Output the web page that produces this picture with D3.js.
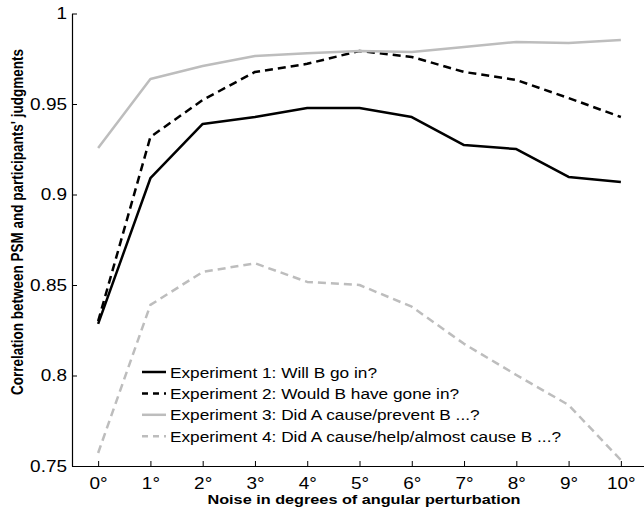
<!DOCTYPE html>
<html>
<head>
<meta charset="utf-8">
<script src="https://cdn.jsdelivr.net/npm/d3@7"></script>
<style>
  body { margin: 0; background: #fff; }
  svg { display: block; font-family: "Liberation Sans", Arial, Helvetica, sans-serif; }
</style>
</head>
<body>
<svg id="chart" width="644" height="509"></svg>
<script>
const noise = [0, 1, 2, 3, 4, 5, 6, 7, 8, 9, 10];
const exp1 = [0.8285, 0.909, 0.939, 0.9428, 0.9478, 0.9478, 0.9428, 0.9273, 0.9251, 0.9097, 0.9069];
const exp2 = [0.830, 0.9318, 0.9522, 0.9677, 0.9722, 0.9793, 0.976, 0.9677, 0.9633, 0.9533, 0.9428];
const exp3 = [0.9257, 0.9638, 0.971, 0.9765, 0.978, 0.9793, 0.9787, 0.9815, 0.9843, 0.9837, 0.9854];
const exp4 = [0.7572, 0.839, 0.8572, 0.862, 0.8517, 0.850, 0.838, 0.8175, 0.8003, 0.7837, 0.7533];
const seriesNames = [
  "Experiment 1: Will B go in?",
  "Experiment 2: Would B have gone in?",
  "Experiment 3: Did A cause/prevent B ...?",
  "Experiment 4: Did A cause/help/almost cause B ...?"
];
const yTicks = [0.75, 0.8, 0.85, 0.9, 0.95, 1];
const yTickLabels = ["0.75", "0.8", "0.85", "0.9", "0.95", "1"];
const xTickLabels = noise.map(d => d + "°");
const xTitle = "Noise in degrees of angular perturbation";
const yTitle = "Correlation between PSM and participants' judgments";

(function () {
const styles = [
  { color: "#000000", dash: null },
  { color: "#000000", dash: "8,5" },
  { color: "#bdbdbd", dash: null },
  { color: "#bdbdbd", dash: "8,5" }
];
const allSeries = [exp1, exp2, exp3, exp4];
const sx = 1.15; // horizontal stretch of text seen in reference

const svg = d3.select("#chart");
const mLeft = 72, mRight = 647, mTop = 13.5, mBottom = 466;

const x = d3.scaleLinear().domain([-0.5, 10.5]).range([mLeft, mRight]);
const y = d3.scaleLinear().domain([0.75, 1]).range([mBottom, mTop]);

const xAxis = d3.axisBottom(x).tickValues(noise).tickFormat((d, i) => xTickLabels[i]).tickSizeInner(-5).tickSizeOuter(0).tickPadding(11);
const yAxis = d3.axisLeft(y).tickValues(yTicks).tickFormat((d, i) => yTickLabels[i]).tickSizeInner(-5).tickSizeOuter(0).tickPadding(5);

const gx = svg.append("g").attr("transform", `translate(0,${mBottom})`).call(xAxis);
const gy = svg.append("g").attr("transform", `translate(${mLeft},0)`).call(yAxis);
[gx, gy].forEach(g => {
  g.select(".domain").attr("stroke", "#000").attr("stroke-width", 1.2);
  g.selectAll(".tick line").attr("stroke", "#000").attr("stroke-width", 1);
  g.selectAll(".tick text").attr("fill", "#000").style("font-size", "16.5px").style("font-family", "Liberation Sans, Arial, sans-serif");
});
gx.selectAll(".tick text").attr("transform", `scale(${sx},1)`);
gy.selectAll(".tick text").attr("x", -5 / sx).attr("dx", 0).attr("transform", `scale(${sx},1)`);

const line = d3.line().x((d, i) => x(noise[i])).y(d => y(d));
allSeries.forEach((s, k) => {
  const p = svg.append("path")
    .datum(s)
    .attr("d", line)
    .attr("fill", "none")
    .attr("stroke", styles[k].color)
    .attr("stroke-width", 2.5)
    .attr("stroke-linejoin", "round");
  if (styles[k].dash) p.attr("stroke-dasharray", styles[k].dash);
});

const legend = svg.append("g");
const legY0 = 372, legDy = 21.4;
seriesNames.forEach((name, k) => {
  const ly = legY0 + k * legDy;
  const l = legend.append("line")
    .attr("x1", 142).attr("x2", 166).attr("y1", ly).attr("y2", ly)
    .attr("stroke", styles[k].color).attr("stroke-width", 2.5);
  if (styles[k].dash) l.attr("stroke-dasharray", "6,5");
  legend.append("text")
    .attr("transform", `translate(170,${ly + 5.5}) scale(${sx},1)`)
    .style("font-size", "15px")
    .attr("fill", "#000")
    .text(name);
});

svg.append("text")
  .attr("transform", `translate(364,504) scale(1.25,1)`)
  .attr("text-anchor", "middle")
  .style("font-size", "13px").style("font-weight", "bold")
  .text(xTitle);

svg.append("text")
  .attr("transform", "translate(23,222) scale(1.2,1) rotate(-90)")
  .attr("text-anchor", "middle")
  .style("font-size", "13.5px").style("font-weight", "bold")
  .text(yTitle);
})();
</script>
</body>
</html>
